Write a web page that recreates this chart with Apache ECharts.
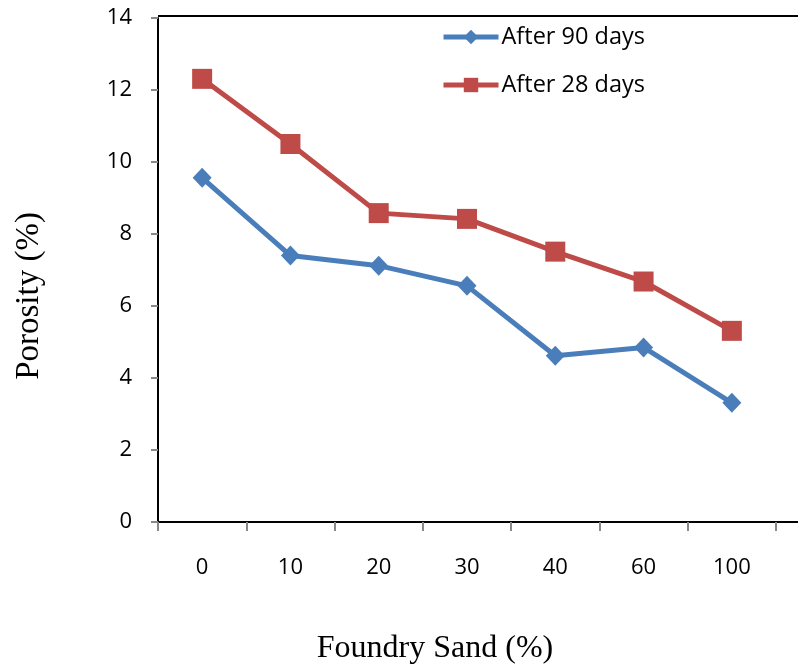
<!DOCTYPE html>
<html><head><meta charset="utf-8">
<script src="https://cdn.jsdelivr.net/npm/echarts@6/dist/echarts.min.js"></script>
<style>html,body{margin:0;padding:0;background:#fff}#c{width:798px;height:665px}</style>
</head><body><div id="c"></div>
<script>
const categories = ['0','10','20','30','40','60','100'];
const after90 = [9.56, 7.40, 7.12, 6.56, 4.62, 4.85, 3.31];
const after28 = [12.31, 10.50, 8.58, 8.42, 7.51, 6.68, 5.31];
const seriesNames = ['After 90 days','After 28 days'];

const chart = echarts.init(document.getElementById('c'));
const labelFont = '"Open Sans", "Liberation Sans", sans-serif';
chart.setOption({
  animation:false,
  backgroundColor:'#fff',
  grid:{left:158, right:22, top:18, bottom:143, containLabel:false, outerBoundsMode:'none'},
  legend:{
    orient:'vertical', left:441, top:25, itemGap:24, padding:0,
    itemWidth:55, itemHeight:18,
    lineStyle:{width:5},
    textStyle:{fontFamily:labelFont, fontSize:23.5, color:'#000', padding:[0,0,0,-2]},
    data:seriesNames
  },
  xAxis:{
    type:'category', data:categories, boundaryGap:true,
    name:'Foundry Sand (%)', nameLocation:'middle', nameGap:111,
    nameTextStyle:{fontFamily:'"Liberation Serif", serif', fontSize:32, color:'#000', padding:[0,64,0,0]},
    axisLine:{lineStyle:{color:'#000', width:2}},
    axisTick:{show:true, length:9, lineStyle:{color:'#888', width:2}},
    axisLabel:{margin:35, fontFamily:labelFont, fontSize:22, color:'#000'}
  },
  yAxis:{
    type:'value', min:0, max:14, interval:2,
    name:'Porosity (%)', nameLocation:'middle', nameGap:112, nameRotate:90,
    nameTextStyle:{fontFamily:'"Liberation Serif", serif', fontSize:33, color:'#000', padding:[0,52,0,0]},
    axisLine:{show:true, lineStyle:{color:'#000', width:2}},
    axisTick:{show:true, length:7, lineStyle:{color:'#888', width:2}},
    axisLabel:{margin:26, fontFamily:labelFont, fontSize:22, color:'#000'},
    splitLine:{show:false}
  },
  graphic:[
    {type:'line', shape:{x1:158, y1:16, x2:798, y2:16}, style:{stroke:'#000', lineWidth:2}},
    {type:'line', shape:{x1:776, y1:522, x2:798, y2:522}, style:{stroke:'#000', lineWidth:2}}
  ],
  series:[
    {name:seriesNames[0], type:'line', data:after90, symbol:'diamond', symbolSize:[19,20],
     lineStyle:{color:'#4A7EBB', width:5}, itemStyle:{color:'#4A7EBB'}},
    {name:seriesNames[1], type:'line', data:after28, symbol:'rect', symbolSize:20,
     lineStyle:{color:'#BE4B48', width:5}, itemStyle:{color:'#BE4B48'}}
  ]
});
</script></body></html>
